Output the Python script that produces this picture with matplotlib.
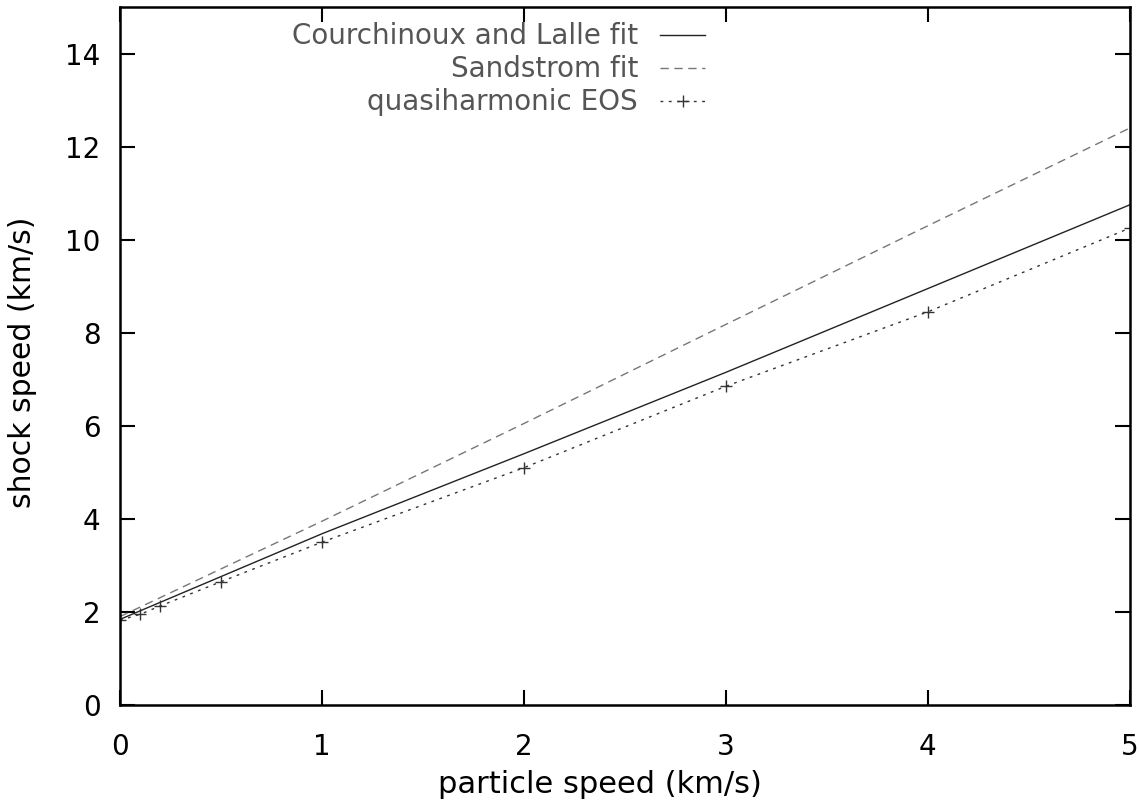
import matplotlib
matplotlib.use("Agg")
import matplotlib.pyplot as plt
import numpy as np

# fit curves (km/s)
up_fit = [0.0, 1.0, 2.0, 3.0, 4.0, 5.0]
us_courchinoux = [1.84, 3.68, 5.40, 7.15, 8.95, 10.75]
us_sandstrom = [1.90, 3.95, 6.05, 8.18, 10.30, 12.40]

# quasiharmonic EOS points
up_qh = [0.0, 0.1, 0.2, 0.5, 1.0, 2.0, 3.0, 4.0, 5.0]
us_qh = [1.82, 1.95, 2.13, 2.65, 3.50, 5.10, 6.85, 8.45, 10.25]

xticks = [0, 1, 2, 3, 4, 5]
yticks = [0, 2, 4, 6, 8, 10, 12, 14]

plt.rcParams["font.family"] = ["DejaVu Sans"]

fig = plt.figure(figsize=(11.39, 8.08), dpi=100)
ax = fig.add_axes([0.1054, 0.1275, 0.8866, 0.8638])

ax.plot(up_fit, us_courchinoux, color="#222222", lw=1.0,
        label="Courchinoux and Lalle fit")
ax.plot(up_fit, us_sandstrom, color="#777777", lw=1.0, ls=(0, (6, 4)),
        label="Sandstrom fit")
ax.plot(up_qh, us_qh, color="#333333", lw=1.0, ls=(0, (2, 4)),
        marker="+", markersize=9, markeredgewidth=1.0,
        label="quasiharmonic EOS")

ax.set_xlim(0, 5)
ax.set_ylim(0, 15)
ax.set_xticks(xticks)
ax.set_yticks(yticks)
ax.tick_params(direction="in", length=11, width=1.5, top=True, right=True,
               labelsize=20)
ax.tick_params(axis="x", pad=20)
ax.tick_params(axis="y", pad=14)
for s in ax.spines.values():
    s.set_linewidth(1.8)

ax.set_xlabel("particle speed (km/s)", fontsize=22)
ax.set_ylabel("shock speed (km/s)", fontsize=21.5)
ax.xaxis.set_label_coords(0.475, -0.093)
ax.yaxis.set_label_coords(-0.082, 0.491)

leg = ax.legend(loc="upper right", bbox_to_anchor=(0.579, 0.978),
                markerfirst=False, frameon=False, fontsize=20,
                handlelength=1.6, handletextpad=0.8, labelspacing=0.18,
                borderpad=0.0, borderaxespad=0.0)
for t in leg.get_texts():
    t.set_color("#555555")

fig.savefig("out.png", dpi=100)
